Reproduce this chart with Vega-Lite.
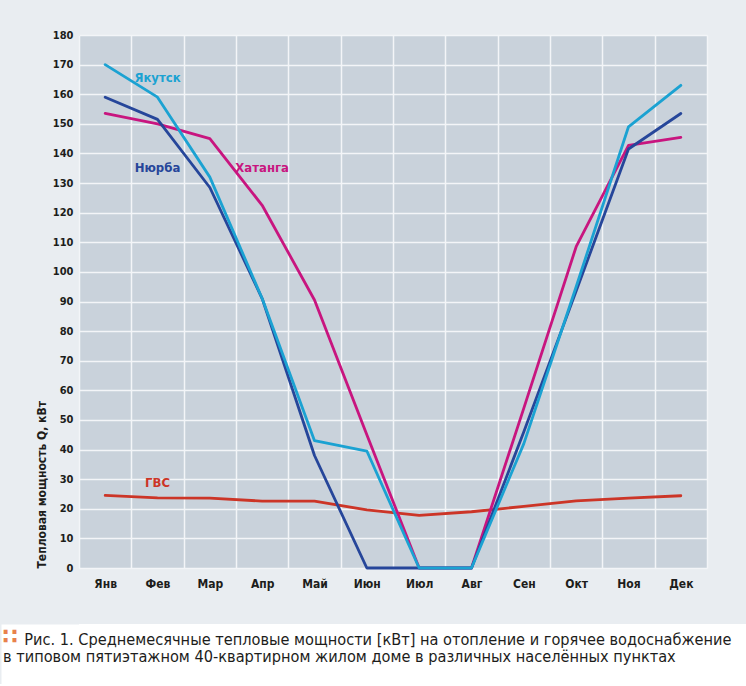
{
  "$schema": "https://vega.github.io/schema/vega-lite/v6.json",
  "background": "#e9edf1",
  "padding": {"left": 0, "top": 29, "right": 0, "bottom": 0},
  "spacing": 35,
  "config": {
    "font": "DejaVu Sans Condensed",
    "view": {"stroke": null},
    "axis": {
      "domain": false,
      "ticks": false,
      "labelFont": "DejaVu Sans Condensed",
      "labelFontWeight": "bold",
      "labelColor": "#1d1d1b",
      "titleFont": "DejaVu Sans Condensed",
      "titleColor": "#1d1d1b",
      "gridColor": "#f3f5f8",
      "gridWidth": 1.5,
      "gridOpacity": 1
    }
  },
  "vconcat": [
    {
      "width": 628,
      "height": 533,
      "view": {"fill": "#c9d2db", "stroke": null},
      "encoding": {
        "x": {
          "field": "month",
          "type": "ordinal",
          "sort": ["Янв", "Фев", "Мар", "Апр", "Май", "Июн", "Июл", "Авг", "Сен", "Окт", "Ноя", "Дек"],
          "scale": {"type": "band", "paddingInner": 0, "paddingOuter": 0},
          "axis": {
            "title": null,
            "grid": true,
            "tickBand": "extent",
            "labelAngle": 0,
            "labelFontSize": 12,
            "labelPadding": 10
          }
        },
        "y": {
          "field": "value",
          "type": "quantitative",
          "scale": {"domain": [0, 180], "nice": false},
          "axis": {
            "values": [0, 10, 20, 30, 40, 50, 60, 70, 80, 90, 100, 110, 120, 130, 140, 150, 160, 170, 180],
            "tickCount": 40,
            "labelOverlap": false,
            "grid": true,
            "labelFontSize": 11,
            "labelPadding": 6,
            "title": ["", "Тепловая мощность Q, кВт"],
            "titleLineHeight": 35,
            "titleAnchor": "start",
            "titleFontSize": 12,
            "titleFontWeight": "bold",
            "titlePadding": 4
          }
        }
      },
      "layer": [
        {
          "data": {
            "values": [
              {"series": "ГВС", "month": "Янв", "value": 24.5},
              {"series": "ГВС", "month": "Фев", "value": 23.7},
              {"series": "ГВС", "month": "Мар", "value": 23.6},
              {"series": "ГВС", "month": "Апр", "value": 22.6},
              {"series": "ГВС", "month": "Май", "value": 22.6},
              {"series": "ГВС", "month": "Июн", "value": 19.6},
              {"series": "ГВС", "month": "Июл", "value": 17.8},
              {"series": "ГВС", "month": "Авг", "value": 19},
              {"series": "ГВС", "month": "Сен", "value": 20.8},
              {"series": "ГВС", "month": "Окт", "value": 22.7},
              {"series": "ГВС", "month": "Ноя", "value": 23.6},
              {"series": "ГВС", "month": "Дек", "value": 24.4},
              {"series": "Хатанга", "month": "Янв", "value": 153.5},
              {"series": "Хатанга", "month": "Фев", "value": 150},
              {"series": "Хатанга", "month": "Мар", "value": 145},
              {"series": "Хатанга", "month": "Апр", "value": 122.5},
              {"series": "Хатанга", "month": "Май", "value": 90.5},
              {"series": "Хатанга", "month": "Июн", "value": 45},
              {"series": "Хатанга", "month": "Июл", "value": 0},
              {"series": "Хатанга", "month": "Авг", "value": 0},
              {"series": "Хатанга", "month": "Сен", "value": 54},
              {"series": "Хатанга", "month": "Окт", "value": 108.5},
              {"series": "Хатанга", "month": "Ноя", "value": 142.7},
              {"series": "Хатанга", "month": "Дек", "value": 145.4},
              {"series": "Нюрба", "month": "Янв", "value": 159},
              {"series": "Нюрба", "month": "Фев", "value": 151.5},
              {"series": "Нюрба", "month": "Мар", "value": 128.5},
              {"series": "Нюрба", "month": "Апр", "value": 91},
              {"series": "Нюрба", "month": "Май", "value": 38},
              {"series": "Нюрба", "month": "Июн", "value": 0},
              {"series": "Нюрба", "month": "Июл", "value": 0},
              {"series": "Нюрба", "month": "Авг", "value": 0},
              {"series": "Нюрба", "month": "Сен", "value": 46},
              {"series": "Нюрба", "month": "Окт", "value": 93.5},
              {"series": "Нюрба", "month": "Ноя", "value": 141.5},
              {"series": "Нюрба", "month": "Дек", "value": 153.5},
              {"series": "Якутск", "month": "Янв", "value": 170},
              {"series": "Якутск", "month": "Фев", "value": 159},
              {"series": "Якутск", "month": "Мар", "value": 132},
              {"series": "Якутск", "month": "Апр", "value": 91},
              {"series": "Якутск", "month": "Май", "value": 43},
              {"series": "Якутск", "month": "Июн", "value": 39.5},
              {"series": "Якутск", "month": "Июл", "value": 0},
              {"series": "Якутск", "month": "Авг", "value": 0},
              {"series": "Якутск", "month": "Сен", "value": 42},
              {"series": "Якутск", "month": "Окт", "value": 95},
              {"series": "Якутск", "month": "Ноя", "value": 149},
              {"series": "Якутск", "month": "Дек", "value": 163}
            ]
          },
          "mark": {"type": "line", "strokeWidth": 2.8, "strokeCap": "round", "strokeJoin": "round"},
          "encoding": {
            "color": {
              "field": "series",
              "type": "nominal",
              "scale": {
                "domain": ["Якутск", "Нюрба", "Хатанга", "ГВС"],
                "range": ["#1ba2d2", "#26469a", "#c8157f", "#cc3527"]
              },
              "legend": null
            }
          }
        },
        {
          "data": {
            "values": [
              {"series": "Якутск", "month": "Фев", "value": 165.6},
              {"series": "Нюрба", "month": "Фев", "value": 135},
              {"series": "Хатанга", "month": "Апр", "value": 135},
              {"series": "ГВС", "month": "Фев", "value": 28.7}
            ]
          },
          "mark": {"type": "text", "font": "DejaVu Sans Condensed", "fontWeight": "bold", "fontSize": 13},
          "encoding": {
            "text": {"field": "series"},
            "color": {"field": "series", "type": "nominal", "legend": null}
          }
        }
      ]
    },
    {
      "width": 667,
      "height": 60,
      "view": {"fill": "#ffffff", "stroke": null},
      "title": {
        "text": [
          "\u2800\u2800Рис. 1. Среднемесячные тепловые мощности [кВт] на отопление и горячее водоснабжение",
          "в типовом пятиэтажном 40-квартирном жилом доме в различных населённых пунктах"
        ],
        "orient": "top",
        "anchor": "start",
        "frame": "group",
        "offset": -41,
        "dx": -76,
        "font": "DejaVu Sans Condensed",
        "fontSize": 16.2,
        "fontWeight": "normal",
        "lineHeight": 16.5,
        "color": "#1d1d1b"
      },
      "data": {"values": [{"marker": ""}]},
      "mark": {"type": "text"},
      "encoding": {
        "y": {
          "field": "marker",
          "type": "nominal",
          "axis": {
            "orient": "left",
            "offset": 39,
            "domain": true,
            "domainColor": "#ffffff",
            "domainWidth": 78,
            "domainCap": "butt",
            "ticks": false,
            "grid": false,
            "labels": false,
            "title": "∷",
            "titleAngle": 0,
            "titleAlign": "left",
            "titleBaseline": "alphabetic",
            "titleX": -38,
            "titleY": 19.5,
            "titleColor": "#e8814b",
            "titleFont": "DejaVu Sans",
            "titleFontSize": 22,
            "titleFontWeight": "bold"
          }
        },
        "text": {"value": ""}
      }
    }
  ]
}
